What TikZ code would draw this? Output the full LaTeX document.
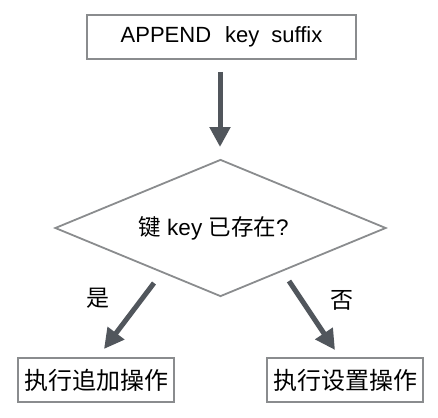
\documentclass[tikz,border=0pt]{standalone}
\usepackage{fontspec}
\setmainfont{Liberation Sans}
\newfontfamily\cjk{Noto Sans CJK SC}
\usetikzlibrary{arrows.meta,shapes.geometric}
\definecolor{boxgray}{HTML}{8A8C8E}
\definecolor{arrgray}{HTML}{51565C}
\tikzset{
  procbox/.style={draw=boxgray, line width=2.6pt, minimum height=44pt, inner sep=0pt, text=black},
  decide/.style={draw=boxgray, line width=1.8pt, diamond, inner sep=0pt, minimum width=331pt, minimum height=137pt, text=black},
  flowarrow/.style={draw=arrgray, line width=5pt, -{Triangle[length=20pt,width=20pt]}},
  branchlab/.style={font=\fontsize{23}{23}\selectfont\cjk, text=black}
}
\begin{document}
\begin{tikzpicture}[x=1pt,y=-1pt]
\useasboundingbox (0,0) rectangle (438,417);
\node[procbox, minimum width=269pt, font=\fontsize{22}{22}\selectfont] (start) at (221.5,37) {APPEND\hspace{14pt}key\hspace{12pt}suffix};
\node[decide] (dec) at (220.5,228) {};
\node[font=\fontsize{22.5}{22.5}\selectfont] (dectext) at (213.5,228) {{\cjk 键} key {\cjk 已存在}?};
\node[procbox, minimum width=156pt, font=\fontsize{24}{24}\selectfont\cjk] (yes) at (96,380) {执行追加操作};
\node[procbox, minimum width=156pt, font=\fontsize{24}{24}\selectfont\cjk] (no) at (345,380) {执行设置操作};
\coordinate (a1s) at (220,72);
\coordinate (a1e) at (220,147);
\coordinate (a2s) at (154,283);
\coordinate (a2e) at (104,349);
\coordinate (a3s) at (289,281);
\coordinate (a3e) at (335,350);
\draw[flowarrow] (a1s) -- (a1e);
\draw[flowarrow] (a2s) -- (a2e);
\draw[flowarrow] (a3s) -- (a3e);
\node[branchlab] (lyes) at (98,298) {是};
\node[branchlab] (lno) at (342,300) {否};
\end{tikzpicture}
\end{document}
